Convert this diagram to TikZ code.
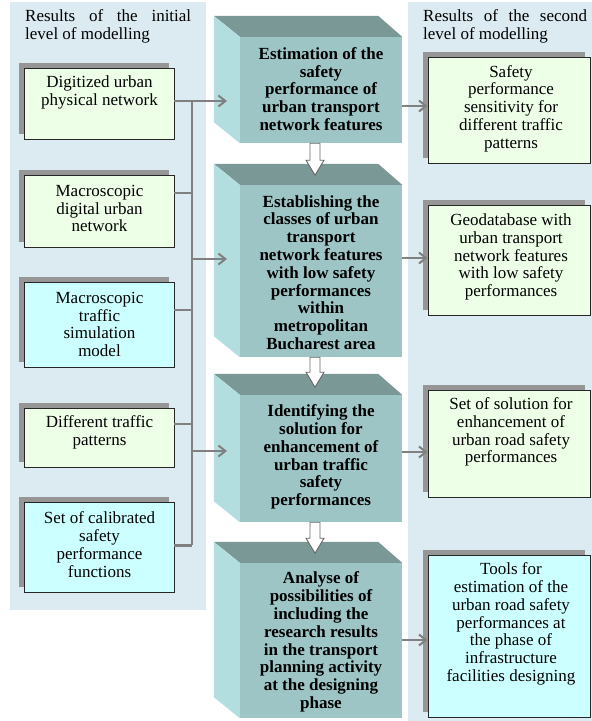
\documentclass[tikz,border=0pt]{standalone}
\usepackage{fontspec}
\setmainfont{Liberation Serif}
\usetikzlibrary{arrows.meta,shadows}

\definecolor{panelc}{RGB}{220,235,241}
\definecolor{greenc}{RGB}{238,255,232}
\definecolor{cyanc}{RGB}{204,255,255}
\definecolor{frontc}{RGB}{157,197,197}
\definecolor{topc}{RGB}{122,152,150}
\definecolor{sidec}{RGB}{178,222,224}
\definecolor{linec}{RGB}{128,128,128}
\definecolor{shadowc}{RGB}{150,150,150}

\tikzset{
  panel/.style={fill=panelc, draw=none},
  sbox/.style={draw=black!85, line width=0.8pt, inner sep=0pt,
    drop shadow={shadow xshift=-5pt, shadow yshift=5pt, fill=shadowc, opacity=1}},
  lbox/.style={sbox, minimum width=150pt},
  rbox/.style={sbox, minimum width=162pt},
  greenbox/.style={fill=greenc},
  cyanbox/.style={fill=cyanc},
  txt/.style={align=center, inner sep=0pt, font=\fontsize{17}{17.8}\selectfont},
  btxt/.style={txt, font=\fontsize{17}{17.8}\selectfont\bfseries},
  head/.style={anchor=north west, inner sep=0pt, text width=166pt, align=justify,
    font=\fontsize{17}{17.8}\selectfont},
  front/.style={fill=frontc, minimum width=162pt, inner sep=0pt},
  topface/.style={fill=topc},
  sideface/.style={fill=sidec},
  conn/.style={draw=linec, line width=2pt},
  arr/.style={conn, -{Straight Barb[length=7pt,width=11pt]}},
  hollow/.style={fill=white, draw=black!60, line width=0.9pt, line join=miter},
}

\begin{document}
\begin{tikzpicture}[x=1pt,y=-1pt]
\useasboundingbox (0,0) rectangle (592,721);

% background panels
\fill[panel] (10,2) rectangle (206,610);
\fill[panel] (408,2) rectangle (592,721);

% panel headings
\node[head] (hl) at (25,9.5) {Results of the initial level of modelling};
\node[head, text width=164pt] (hr) at (423,9.5) {Results of the second level of modelling};

% input boxes (left)
\node[lbox, greenbox, minimum height=71pt] (L1) at (99,103.5) {};
\node[lbox, greenbox, minimum height=72pt] (L2) at (99,211) {};
\node[lbox, cyanbox,  minimum height=85pt] (L3) at (99,324.5) {};
\node[lbox, greenbox, minimum height=59pt] (L4) at (99,437.5) {};
\node[lbox, cyanbox,  minimum height=90pt] (L5) at (99,547) {};

\node[txt] (L1t) at (99.5,92.5) {Digitized urban\\physical network};
\node[txt] (L2t) at (99.5,208.5) {Macroscopic\\digital urban\\network};
\node[txt] (L3t) at (99.5,324.5) {Macroscopic\\traffic\\simulation\\model};
\node[txt] (L4t) at (99.5,432.5) {Different traffic\\patterns};
\node[txt] (L5t) at (99.5,544.5) {Set of calibrated\\safety\\performance\\functions};

% output boxes (right)
\node[rbox, greenbox, minimum height=106pt] (R1) at (509,110) {};
\node[rbox, greenbox, minimum height=110pt] (R2) at (509,260) {};
\node[rbox, greenbox, minimum height=107pt] (R3) at (509,443.5) {};
\node[rbox, cyanbox,  minimum height=162pt] (R4) at (509,636) {};

\node[txt] (R1t) at (511,108.5) {Safety\\performance\\sensitivity for\\different traffic\\patterns};
\node[txt] (R2t) at (511,257) {Geodatabase with\\urban transport\\network features\\with low safety\\performances};
\node[txt] (R3t) at (511,432) {Set of solution for\\enhancement of\\urban road safety\\performances};
\node[txt] (R4t) at (511,624) {Tools for\\estimation of the\\urban road safety\\performances at\\the phase of\\infrastructure\\facilities designing};

% process blocks (centre), front faces
\node[front, minimum height=106pt] (B1) at (321,90) {};
\node[front, minimum height=172pt] (B2) at (321,271) {};
\node[front, minimum height=127pt] (B3) at (321,458.5) {};
\node[front, minimum height=155pt] (B4) at (321,640.5) {};

% top and side faces of the blocks
\foreach \b in {B1,B2,B3,B4}{
  \fill[topface] (\b.north west) -- ([shift={(-26,-21)}]\b.north west)
     -- ([shift={(-24,-21)}]\b.north east) -- (\b.north east) -- cycle;
  \fill[sideface] (\b.north west) -- ([shift={(-26,-21)}]\b.north west)
     -- ([shift={(-26,-21)}]\b.south west) -- (\b.south west) -- cycle;
}

\node[btxt] (B1t) at (321,89) {Estimation of the\\safety\\performance of\\urban transport\\network features};
\node[btxt] (B2t) at (321,272.5) {Establishing the\\classes of urban\\transport\\network features\\with low safety\\performances\\within\\metropolitan\\Bucharest area};
\node[btxt] (B3t) at (321,457) {Identifying the\\solution for\\enhancement of\\urban traffic\\safety\\performances};
\node[btxt] (B4t) at (321,642) {Analyse of\\possibilities of\\including the\\research results\\in the transport\\planning activity\\at the designing\\phase};

% collecting bus on the left
\coordinate (busTop) at (192,101);
\coordinate (busBot) at (192,545);
\coordinate (B1in) at (227,101);
\coordinate (B2in) at (227,259);
\coordinate (B3in) at (227,451);

\draw[conn] (busTop) -- (busBot);
\draw[conn] (L2.east |- 0,193) -- (busTop |- 0,193);
\draw[conn] (L3.east |- 0,310) -- (busTop |- 0,310);
\draw[conn] (L4.east |- 0,424) -- (busTop |- 0,424);
\draw[conn, line width=3pt] (L5.east |- 0,545) -- (busBot);

\draw[arr] (L1.east |- B1in) -- (B1in);
\draw[arr] (busTop |- B2in) -- (B2in);
\draw[arr] (busTop |- B3in) -- (B3in);

% results on the right
\draw[arr] (B1.east |- 0,106) -- (R1.west |- 0,106);
\draw[arr] (B2.east |- 0,258) -- (R2.west |- 0,258);
\draw[arr] (B3.east |- 0,452) -- (R3.west |- 0,452);
\draw[arr] (B4.east |- 0,640) -- (R4.west |- 0,640);

% hollow arrows between successive blocks
\draw[hollow] ([xshift=-11pt]B1.south) -- ++(0,17) -- ++(-4,0) -- ++(9,15)
   -- ++(9,-15) -- ++(-4,0) -- ([xshift=-1pt]B1.south) -- cycle;
\draw[hollow] ([xshift=-11pt]B2.south) -- ++(0,15) -- ++(-4,0) -- ++(9,15)
   -- ++(9,-15) -- ++(-4,0) -- ([xshift=-1pt]B2.south) -- cycle;
\draw[hollow] ([xshift=-11pt]B3.south) -- ++(0,16) -- ++(-4,0) -- ++(9,15)
   -- ++(9,-15) -- ++(-4,0) -- ([xshift=-1pt]B3.south) -- cycle;
\end{tikzpicture}
\end{document}
